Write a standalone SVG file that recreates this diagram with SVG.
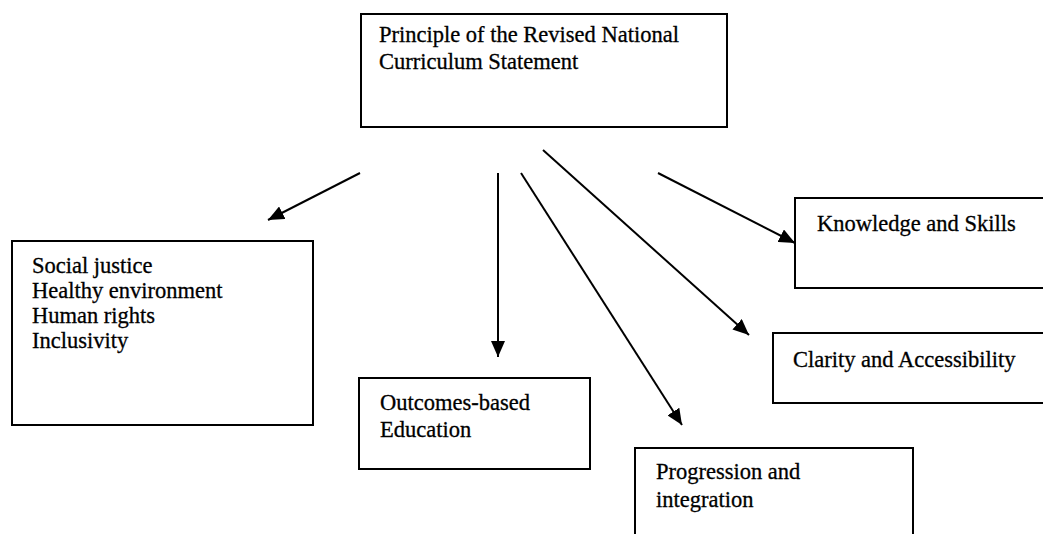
<svg xmlns="http://www.w3.org/2000/svg" width="1043" height="534" viewBox="0 0 1043 534">
  <defs>
    <style>
      .box { fill: #fff; stroke: #000; stroke-width: 2; }
      .lbl { font-family: "Liberation Serif", "Times New Roman", serif; font-size: 22.5px; fill: #000; stroke: #000; stroke-width: 0.3; }
      .edge { stroke: #000; stroke-width: 2; fill: none; marker-end: url(#head); }
    </style>
    <marker id="head" viewBox="0 0 16 14" refX="16" refY="7" markerWidth="16" markerHeight="14" markerUnits="userSpaceOnUse" orient="auto">
      <path d="M0,0 L16,7 L0,14 Z" fill="#000"/>
    </marker>
  </defs>
  <rect width="1043" height="534" fill="#fff"/>

  <g id="root">
    <rect class="box" x="361" y="14" width="366" height="113"/>
    <text class="lbl" x="379" y="42">Principle of the Revised National</text>
    <text class="lbl" x="379" y="69">Curriculum Statement</text>
  </g>

  <g id="values">
    <rect class="box" x="12" y="241" width="301" height="184"/>
    <text class="lbl" x="32" y="273">Social justice</text>
    <text class="lbl" x="32" y="298">Healthy environment</text>
    <text class="lbl" x="32" y="323">Human rights</text>
    <text class="lbl" x="32" y="348">Inclusivity</text>
  </g>

  <g id="obe">
    <rect class="box" x="359" y="378" width="231" height="91"/>
    <text class="lbl" x="380" y="410">Outcomes-based</text>
    <text class="lbl" x="380" y="437">Education</text>
  </g>

  <g id="progression">
    <rect class="box" x="635" y="448" width="278" height="100"/>
    <text class="lbl" x="656" y="479">Progression and</text>
    <text class="lbl" x="656" y="507">integration</text>
  </g>

  <g id="knowledge">
    <rect class="box" x="795" y="198" width="260" height="90"/>
    <text class="lbl" x="817" y="231">Knowledge and Skills</text>
  </g>

  <g id="clarity">
    <rect class="box" x="773" y="333" width="280" height="70"/>
    <text class="lbl" x="793" y="367">Clarity and Accessibility</text>
  </g>

  <g id="connectors">
    <line class="edge" x1="360" y1="173" x2="268" y2="220"/>
    <line class="edge" x1="498" y1="173" x2="498" y2="357"/>
    <line class="edge" x1="521" y1="173" x2="682" y2="425"/>
    <line class="edge" x1="543" y1="150" x2="749" y2="335"/>
    <line class="edge" x1="658" y1="173" x2="795" y2="243"/>
  </g>
</svg>
